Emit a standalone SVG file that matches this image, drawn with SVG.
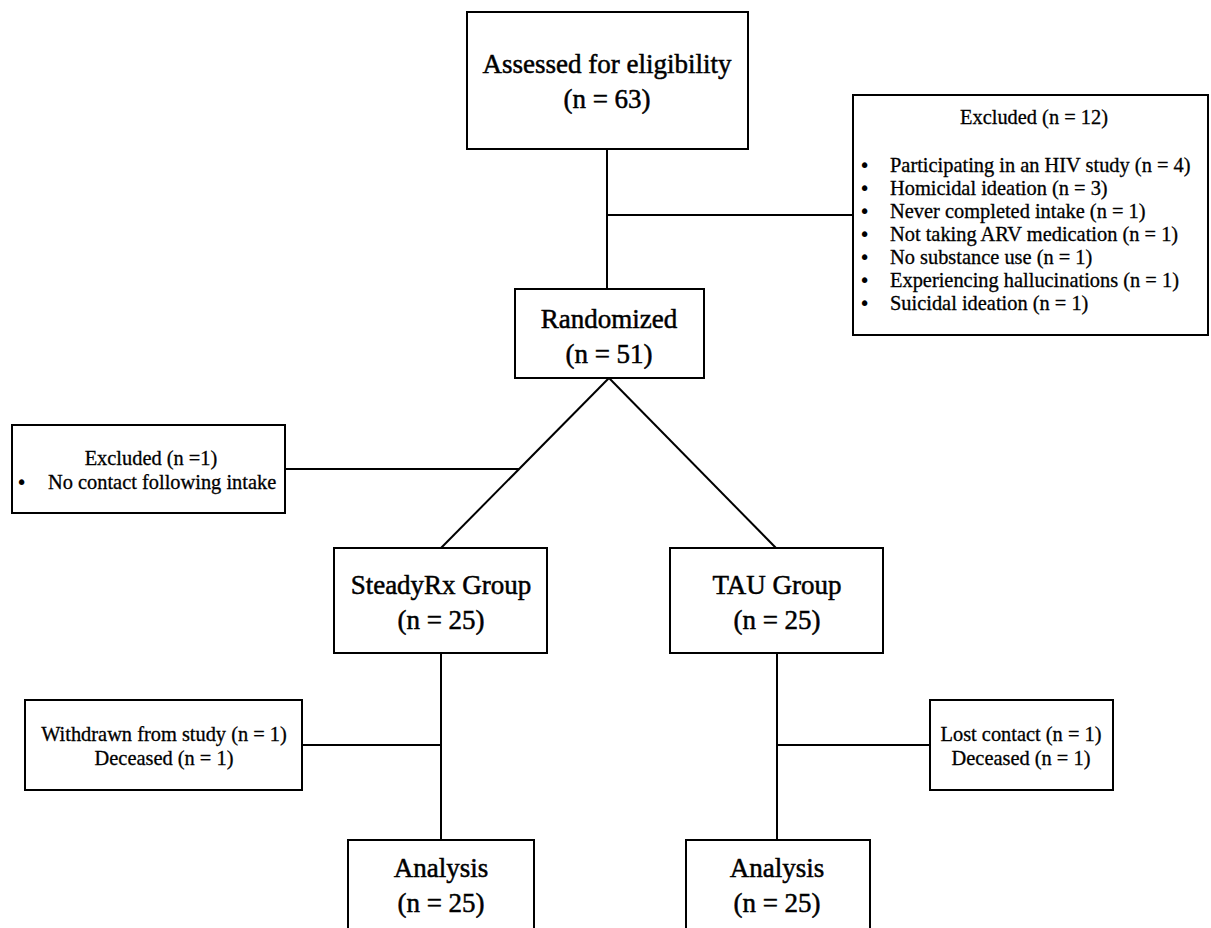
<svg xmlns="http://www.w3.org/2000/svg" width="1211" height="928" viewBox="0 0 1211 928">
<style>
  .box { fill: #ffffff; stroke: #000000; stroke-width: 2; }
  .ln { fill: none; stroke: #000000; stroke-width: 2; }
  .big { font-family: "Liberation Serif", "Times New Roman", serif; font-size: 27px; fill: #000; stroke: #000; stroke-width: 0.5; text-anchor: middle; }
  .sm { font-family: "Liberation Serif", "Times New Roman", serif; font-size: 20.4px; fill: #000; stroke: #000; stroke-width: 0.3; }
  .bul { font-family: "DejaVu Sans", sans-serif; font-size: 19px; fill: #000; }
  .mid { text-anchor: middle; }
</style>
<rect x="0" y="0" width="1211" height="928" fill="#ffffff"/>
<g id="connectors">
  <line class="ln" x1="607" y1="149" x2="607" y2="289"/>
  <line class="ln" x1="607" y1="215" x2="853" y2="215"/>
  <line class="ln" x1="609" y1="378" x2="441" y2="548"/>
  <line class="ln" x1="609" y1="378" x2="776" y2="548"/>
  <line class="ln" x1="285" y1="469" x2="519" y2="469"/>
  <line class="ln" x1="441" y1="653" x2="441" y2="840"/>
  <line class="ln" x1="302" y1="745" x2="441" y2="745"/>
  <line class="ln" x1="777" y1="653" x2="777" y2="840"/>
  <line class="ln" x1="777" y1="745" x2="930" y2="745"/>
</g>
<g id="assessed">
  <rect class="box" x="467" y="12" width="281" height="137"/>
  <text class="big" x="607" y="73">Assessed for eligibility</text>
  <text class="big" x="607" y="108">(n = 63)</text>
</g>
<g id="excluded12">
  <rect class="box" x="853" y="95" width="355" height="240"/>
  <text class="sm mid" x="1034" y="124">Excluded (n = 12)</text>
  <g class="bul">
    <text x="859" y="172">•</text>
    <text x="859" y="195">•</text>
    <text x="859" y="218">•</text>
    <text x="859" y="241">•</text>
    <text x="859" y="264">•</text>
    <text x="859" y="287">•</text>
    <text x="859" y="310">•</text>
  </g>
  <g class="sm">
    <text x="890" y="172">Participating in an HIV study (n = 4)</text>
    <text x="890" y="195">Homicidal ideation (n = 3)</text>
    <text x="890" y="218">Never completed intake (n = 1)</text>
    <text x="890" y="241">Not taking ARV medication (n = 1)</text>
    <text x="890" y="264">No substance use (n = 1)</text>
    <text x="890" y="287">Experiencing hallucinations (n = 1)</text>
    <text x="890" y="310">Suicidal ideation (n = 1)</text>
  </g>
</g>
<g id="randomized">
  <rect class="box" x="515" y="289" width="189" height="89"/>
  <text class="big" x="609" y="328">Randomized</text>
  <text class="big" x="609" y="363">(n = 51)</text>
</g>
<g id="excluded1">
  <rect class="box" x="12" y="425" width="273" height="88"/>
  <text class="sm mid" x="151" y="465">Excluded (n =1)</text>
  <text class="bul" x="16" y="489">•</text>
  <text class="sm" x="48" y="489">No contact following intake</text>
</g>
<g id="steadyrx">
  <rect class="box" x="334" y="548" width="213" height="105"/>
  <text class="big" x="441" y="594">SteadyRx Group</text>
  <text class="big" x="441" y="629">(n = 25)</text>
</g>
<g id="tau">
  <rect class="box" x="670" y="548" width="213" height="105"/>
  <text class="big" x="777" y="594">TAU Group</text>
  <text class="big" x="777" y="629">(n = 25)</text>
</g>
<g id="withdrawn">
  <rect class="box" x="25" y="700" width="277" height="90"/>
  <text class="sm mid" x="164" y="741">Withdrawn from study (n = 1)</text>
  <text class="sm mid" x="164" y="765">Deceased (n = 1)</text>
</g>
<g id="lostcontact">
  <rect class="box" x="930" y="700" width="183" height="90"/>
  <text class="sm mid" x="1021" y="741">Lost contact (n = 1)</text>
  <text class="sm mid" x="1021" y="765">Deceased (n = 1)</text>
</g>
<g id="analysis1">
  <rect class="box" x="348" y="840" width="186" height="100"/>
  <text class="big" x="441" y="877">Analysis</text>
  <text class="big" x="441" y="912">(n = 25)</text>
</g>
<g id="analysis2">
  <rect class="box" x="686" y="840" width="184" height="100"/>
  <text class="big" x="777" y="877">Analysis</text>
  <text class="big" x="777" y="912">(n = 25)</text>
</g>
</svg>
